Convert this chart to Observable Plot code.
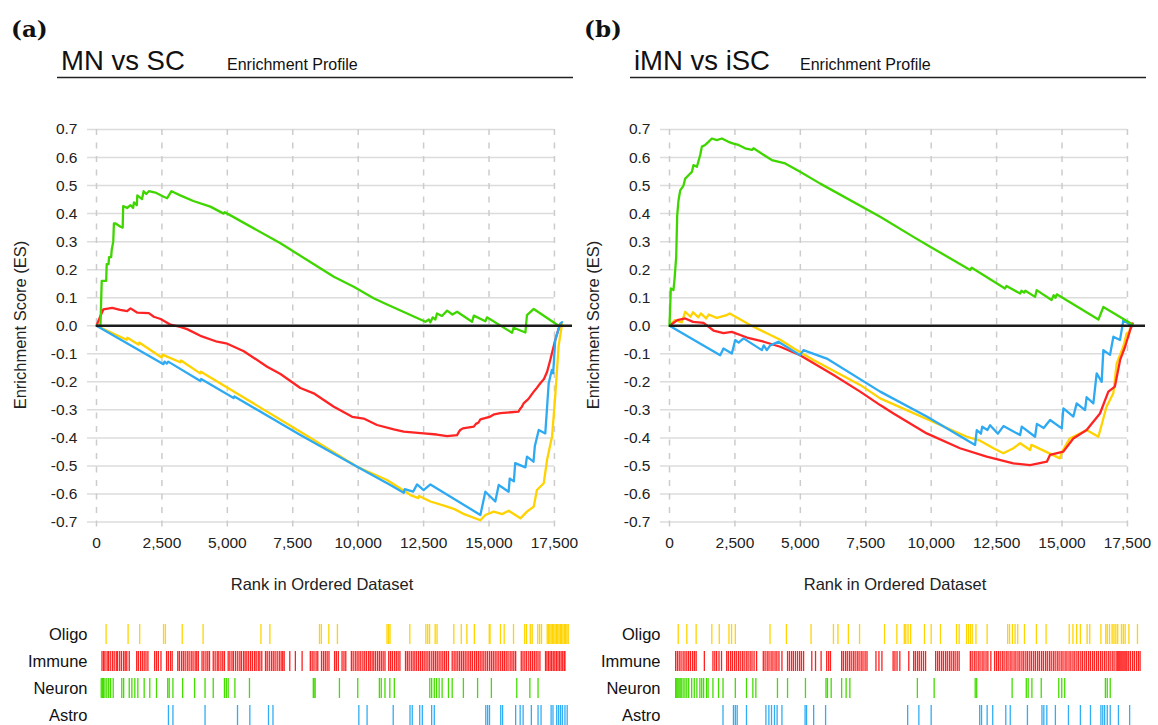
<!DOCTYPE html>
<html>
<head>
<meta charset="utf-8">
<script src="https://cdn.jsdelivr.net/npm/d3@7"></script>
<script src="https://cdn.jsdelivr.net/npm/@observablehq/plot@0.6"></script>
<style>
  html, body { margin: 0; padding: 0; background: #fff; }
  #root { position: relative; width: 1158px; height: 725px; overflow: hidden; background: #fff; }
  .layer { position: absolute; }
</style>
</head>
<body>
<div id="root"></div>
<script>
// ---------- DATA ----------
const setNames = ["Oligo", "Immune", "Neuron", "Astro"];
const rankTicks = [0, 2500, 5000, 7500, 10000, 12500, 15000, 17500];
const esTicks = [0.7, 0.6, 0.5, 0.4, 0.3, 0.2, 0.1, 0, -0.1, -0.2, -0.3, -0.4, -0.5, -0.6, -0.7];

// Panel (a): MN vs SC running enrichment score, [rank, ES]
const mnNeuronES = [[0,0],[150,0.0],[200,0.16],[370,0.16],[390,0.22],[460,0.22],[480,0.245],[560,0.245],[580,0.27],[640,0.30],[665,0.365],[730,0.365],[917,0.353],[1000,0.35],[1020,0.427],[1170,0.42],[1300,0.43],[1400,0.42],[1430,0.44],[1540,0.43],[1560,0.465],[1740,0.452],[1800,0.48],[1900,0.47],[2000,0.48],[2250,0.475],[2570,0.46],[2700,0.455],[2865,0.48],[3200,0.465],[3700,0.445],[4350,0.425],[4860,0.40],[4900,0.405],[5000,0.40],[7030,0.294],[9070,0.175],[9830,0.139],[10590,0.098],[11000,0.08],[12570,0.014],[12700,0.022],[12760,0.012],[12850,0.03],[12950,0.022],[13010,0.044],[13200,0.035],[13400,0.054],[13600,0.04],[13780,0.05],[14350,0.014],[14420,0.036],[14860,0.016],[14920,0.03],[15880,-0.025],[15940,-0.007],[16390,-0.024],[16450,0.038],[16710,0.06],[17660,0.0]];
const mnImmuneES = [[0,0],[150,0.035],[260,0.058],[600,0.064],[900,0.057],[1170,0.052],[1300,0.062],[1550,0.047],[2000,0.045],[2190,0.032],[2450,0.024],[2830,0.004],[3200,-0.004],[3460,-0.012],[3970,-0.036],[4610,-0.057],[5000,-0.064],[5630,-0.091],[6520,-0.146],[7030,-0.172],[7790,-0.222],[8300,-0.241],[9070,-0.289],[9770,-0.325],[10210,-0.331],[10720,-0.354],[11360,-0.370],[11740,-0.378],[12500,-0.384],[13000,-0.388],[13400,-0.394],[13780,-0.390],[13850,-0.378],[13900,-0.372],[14000,-0.366],[14420,-0.360],[14500,-0.350],[14600,-0.345],[14670,-0.334],[15050,-0.324],[15200,-0.316],[15430,-0.312],[16130,-0.306],[16200,-0.295],[16250,-0.290],[16320,-0.277],[16500,-0.262],[16710,-0.235],[16800,-0.225],[16960,-0.205],[17100,-0.19],[17220,-0.164],[17340,-0.122],[17530,-0.051],[17660,-0.01],[17730,0.007]];
const mnOligoES = [[0,0],[1150,-0.05],[1180,-0.043],[1600,-0.067],[1630,-0.06],[2490,-0.113],[2520,-0.103],[3200,-0.13],[3230,-0.124],[3960,-0.17],[3990,-0.164],[7790,-0.378],[9960,-0.503],[11100,-0.55],[12000,-0.604],[12300,-0.615],[12330,-0.607],[12760,-0.627],[13400,-0.645],[13700,-0.655],[14000,-0.67],[14670,-0.694],[14860,-0.675],[15180,-0.663],[15500,-0.672],[15750,-0.66],[16200,-0.687],[16450,-0.663],[16710,-0.645],[16830,-0.586],[17090,-0.562],[17220,-0.477],[17410,-0.394],[17530,-0.251],[17660,-0.072],[17790,0.007]];
const mnAstroES = [[0,0],[2560,-0.137],[2600,-0.128],[2690,-0.135],[2740,-0.128],[3970,-0.197],[4000,-0.19],[5240,-0.258],[5270,-0.252],[7790,-0.39],[9960,-0.503],[11230,-0.568],[11740,-0.596],[11780,-0.583],[12100,-0.592],[12250,-0.566],[12500,-0.586],[12760,-0.566],[14670,-0.675],[14860,-0.592],[15240,-0.627],[15370,-0.568],[15750,-0.592],[15790,-0.545],[15950,-0.555],[16000,-0.49],[16390,-0.505],[16450,-0.467],[16700,-0.485],[16750,-0.43],[16900,-0.372],[17150,-0.384],[17220,-0.289],[17280,-0.205],[17400,-0.158],[17450,-0.17],[17530,-0.051],[17720,0.007],[17790,0.013]];

// Panel (b): iMN vs iSC running enrichment score, [rank, ES]
const imnNeuronES = [[0,0],[50,0.133],[150,0.127],[190,0.163],[256,0.246],[294,0.394],[344,0.447],[410,0.483],[535,0.50],[600,0.525],[726,0.537],[856,0.549],[917,0.573],[1047,0.567],[1173,0.609],[1237,0.639],[1364,0.645],[1490,0.656],[1620,0.668],[1810,0.662],[2000,0.668],[2250,0.656],[2445,0.650],[2636,0.645],[2890,0.633],[3150,0.627],[3210,0.633],[3910,0.591],[4420,0.579],[4990,0.549],[5760,0.507],[8050,0.389],[9320,0.317],[9960,0.282],[11490,0.199],[11550,0.207],[12820,0.133],[12880,0.142],[13400,0.115],[13450,0.125],[13550,0.118],[13600,0.125],[13970,0.103],[14030,0.127],[14600,0.092],[14680,0.109],[14750,0.1],[14800,0.112],[16390,0.022],[16580,0.067],[17665,0.006]];
const imnImmuneES = [[0,0],[300,0.02],[600,0.026],[900,0.014],[1300,0.01],[1680,-0.017],[2060,-0.026],[2380,-0.022],[2960,-0.042],[3600,-0.057],[4230,-0.075],[4990,-0.105],[6270,-0.176],[7285,-0.235],[8050,-0.283],[8560,-0.313],[9830,-0.384],[11100,-0.437],[12120,-0.467],[13140,-0.491],[13780,-0.497],[14420,-0.485],[14540,-0.461],[15050,-0.449],[15430,-0.402],[15940,-0.372],[16450,-0.313],[16770,-0.235],[17020,-0.217],[17220,-0.122],[17410,-0.075],[17600,-0.016],[17700,0.008]];
const imnOligoES = [[0,0],[200,0.02],[470,0.012],[600,0.05],[800,0.032],[900,0.048],[1100,0.03],[1200,0.044],[1400,0.026],[1500,0.04],[1800,0.028],[2190,0.038],[2300,0.044],[2640,0.026],[3080,0.003],[3720,-0.027],[4230,-0.05],[4740,-0.08],[5500,-0.122],[7285,-0.211],[8050,-0.259],[11360,-0.396],[11870,-0.41],[12380,-0.437],[12760,-0.455],[13140,-0.437],[13400,-0.419],[13780,-0.443],[13830,-0.425],[14920,-0.473],[15000,-0.45],[15300,-0.402],[15940,-0.372],[16390,-0.396],[16700,-0.289],[16960,-0.241],[17090,-0.134],[17340,-0.075],[17470,-0.027],[17540,-0.04],[17630,0.008]];
const imnAstroES = [[0,0],[1937,-0.105],[2063,-0.081],[2383,-0.099],[2510,-0.051],[2640,-0.06],[2830,-0.045],[3530,-0.087],[3600,-0.07],[3720,-0.087],[3850,-0.07],[4160,-0.057],[4990,-0.105],[5120,-0.087],[5300,-0.093],[6010,-0.117],[8050,-0.235],[9830,-0.324],[11678,-0.425],[11742,-0.372],[11900,-0.385],[11950,-0.36],[12150,-0.372],[12250,-0.355],[12550,-0.385],[12761,-0.358],[13397,-0.39],[13460,-0.36],[13970,-0.396],[14040,-0.35],[14300,-0.365],[14544,-0.336],[14990,-0.366],[15052,-0.295],[15433,-0.324],[15560,-0.277],[15880,-0.301],[15940,-0.255],[16197,-0.277],[16324,-0.170],[16516,-0.2],[16579,-0.087],[16834,-0.104],[16962,-0.039],[17216,-0.051],[17344,0.02],[17663,0.0]];

// Barcode hit ranks, panel (a)
const mnOligoHits = [213,1050,1490,2398,2469,3108,3902,6102,6442,8330,8400,8684,9011,10898,10955,11011,11764,12374,12445,12516,12729,12800,13438,13722,13935,14219,14786,14815,15212,15354,15709,16134,16205,16347,16418,16631,16702,16773,16990,17040,17090,17140,17190,17240,17290,17340,17390,17440,17490,17540,17590,17640,17690,17740,17790];
const mnImmuneHits = [57,120,170,250,300,370,450,520,600,650,730,800,880,940,1000,1093,1377,1440,1520,1590,1661,1730,1803,2059,2130,2200,2300,2513,2580,2660,2726,2939,3000,3080,3150,3220,3300,3370,3450,3520,3600,3660,3720,3862,3930,4010,4080,4146,4288,4360,4440,4500,4580,4650,4714,4856,4920,5000,5060,5140,5220,5300,5360,5440,5500,5566,5637,5710,5780,5860,5920,6000,6060,6134,6276,6340,6420,6500,6570,6640,6720,6800,6870,6930,6986,7199,7412,7668,7980,8050,8120,8200,8264,8406,8480,8550,8620,8690,8903,8970,9045,9187,9260,9329,9542,9610,9690,9760,9830,9900,9980,10050,10120,10200,10260,10330,10394,10465,10540,10610,10680,10750,10820,10962,11030,11100,11180,11250,11320,11388,11601,11670,11740,11820,11890,11956,12027,12100,12170,12240,12310,12382,12453,12520,12600,12670,12740,12808,12879,12950,13020,13090,13160,13234,13376,13450,13520,13590,13660,13731,13800,13870,13940,14010,14080,14150,14230,14300,14370,14440,14510,14580,14654,14725,14800,14870,14940,15010,15080,15150,15222,15293,15360,15430,15500,15580,15650,15720,15790,16003,16070,16140,16210,16290,16358,16429,16500,16570,16640,16713,16926,16980,17040,17100,17160,17220,17280,17340,17400,17460,17520,17580,17640,17665];
const mnNeuronHits = [28,71,114,170,241,312,383,483,809,880,1093,1193,1306,1420,1661,1874,2130,2556,2613,2755,3124,3578,3976,4288,4714,4785,4856,5112,5666,8094,8122,8165,9088,9784,10607,10678,10820,11005,11175,12524,12595,12695,12780,12879,12993,13234,13376,13802,14342,14867,15833,16330,16642];
const mnAstroHits = [2584,2755,3976,5211,5680,6390,6560,9826,10139,11133,11772,11857,12141,12240,12595,12695,14654,14725,14796,15222,15293,15790,15961,16074,16387,16642,16756,17139,17210,17352,17423,17494,17565,17665,17750];

// Barcode hit ranks, panel (b)
const imnOligoHits = [143,470,827,1425,1710,2081,2180,2323,3648,4275,5216,6071,6242,6641,7068,8023,8493,8778,8835,8921,9020,9548,9804,10160,10773,10873,11158,11229,11300,11372,11514,11942,12725,12797,12911,13010,13110,13367,13823,14193,15077,15219,15362,15504,15761,15860,16288,16473,16530,16616,16716,16787,16858,16929,17072,17143,17214,17357,17684];
const imnImmuneHits = [43,110,180,250,330,400,470,540,610,690,760,827,1140,1468,1540,1610,1700,1796,1995,2060,2140,2210,2290,2360,2440,2510,2590,2660,2740,2810,2890,2960,3040,3135,3392,3460,3540,3610,3690,3760,3840,3910,3990,4104,4318,4390,4470,4540,4620,4700,4780,4850,4931,5244,5387,5600,5814,5890,5957,6384,6450,6530,6600,6680,6750,6830,6900,6980,7050,7130,7200,7280,7353,7695,7809,7923,8351,8420,8500,8607,8949,9134,9200,9280,9350,9430,9510,9590,9975,10050,10120,10200,10270,10350,10420,10500,10570,10650,10720,10800,10873,11300,11370,11450,11520,11600,11670,11750,11820,11900,11970,12084,12227,12300,12370,12440,12520,12590,12670,12740,12820,12890,12970,13040,13120,13190,13270,13340,13420,13490,13570,13640,13720,13790,13870,13940,14020,14090,14170,14240,14320,14390,14470,14540,14620,14690,14770,14840,14920,14990,15070,15140,15220,15290,15370,15440,15520,15590,15670,15740,15820,15890,15970,16040,16120,16190,16270,16340,16420,16490,16570,16640,16720,16790,16870,16930,16970,17010,17050,17090,17130,17170,17210,17250,17285,17350,17420,17500,17570,17650,17720,17784];
const imnNeuronHits = [43,86,128,171,214,257,328,399,470,542,656,755,855,969,1040,1112,1226,1283,1468,1682,1853,2323,2750,2993,3107,3933,4318,5002,5786,5843,5985,6384,6555,6698,9277,9918,11486,11543,12896,13438,13509,13652,14008,14678,14792,14906,16459,16530,16644];
const imnAstroHits = [1853,2252,2323,2394,2750,3491,3605,3705,3819,3919,4104,4988,5045,5315,5771,8906,9334,9804,11657,11728,11942,12155,12654,12825,13481,14036,14108,14222,14549,15048,15504,15889,16288,16359,16430,16530,16644,16958,17385];

// ---------- STYLE ----------
const FONT = '"Liberation Sans", Arial, Helvetica, sans-serif';
const lineColors = ["#ffd200", "#ff2424", "#3fd600", "#2eaaf2"];
const barColors = ["#ffd400", "#ff2020", "#44dd00", "#30adf5"];

function enrichmentPlot(curves) {
  const rows = [];
  for (const [set, pts] of curves) for (const [rank, es] of pts) rows.push({set, rank, es});
  return Plot.plot({
    width: 580, height: 500,
    marginLeft: 87, marginRight: 8, marginTop: 15, marginBottom: 64.5,
    x: {domain: [-344, 18190], label: null},
    y: {domain: [-0.75, 0.75], label: null},
    color: {domain: setNames, range: lineColors},
    style: {fontFamily: FONT, fontSize: "15.5px", color: "#222", background: "transparent", overflow: "visible"},
    marks: [
      Plot.ruleY(esTicks, {x1: -344, x2: 17500, stroke: "#dcdcdc", strokeWidth: 1.5}),
      Plot.ruleX(rankTicks, {y1: 0.7, y2: -0.735, stroke: "#cccccc", strokeWidth: 1.5, strokeDasharray: "6,7.5"}),
      Plot.line(rows, {x: "rank", y: "es", z: "set", stroke: "set", strokeWidth: 2.3}),
      Plot.ruleY([0], {x1: 0, x2: 18190, stroke: "#1c1c1c", strokeWidth: 2.6}),
      Plot.axisY(esTicks, {tickSize: 0, tickPadding: 10, tickFormat: d => d.toFixed(1), label: null}),
      Plot.axisX(rankTicks, {tickSize: 0, tickPadding: 1, label: null})
    ]
  });
}

function barcodePlot(hitSets, marginLeft, marginRight, tickPadding) {
  const rows = [];
  for (const [set, hits] of hitSets) for (const rank of hits) rows.push({set, rank});
  return Plot.plot({
    width: 580, height: 118,
    marginLeft, marginRight, marginTop: 0, marginBottom: 0,
    x: {domain: [0, 17800], axis: null},
    y: {domain: setNames, range: [8.5, 116.5], paddingInner: 0.26, paddingOuter: 0.13, label: null},
    color: {domain: setNames, range: barColors},
    style: {fontFamily: FONT, fontSize: "16.5px", color: "#111", background: "transparent", overflow: "visible"},
    marks: [
      Plot.tickX(rows, {x: "rank", y: "set", stroke: "set", strokeWidth: 1.3}),
      Plot.axisY({tickSize: 0, tickPadding, label: null})
    ]
  });
}

const root = document.getElementById("root");
function place(node, left, top) {
  const d = document.createElement("div");
  d.className = "layer";
  d.style.left = left + "px";
  d.style.top = top + "px";
  d.appendChild(node);
  root.appendChild(d);
}

place(enrichmentPlot([["Oligo", mnOligoES], ["Immune", mnImmuneES], ["Astro", mnAstroES], ["Neuron", mnNeuronES]]), 0, 100);
place(enrichmentPlot([["Oligo", imnOligoES], ["Immune", imnImmuneES], ["Astro", imnAstroES], ["Neuron", imnNeuronES]]), 573, 100);
place(barcodePlot([["Oligo", mnOligoHits], ["Immune", mnImmuneHits], ["Neuron", mnNeuronHits], ["Astro", mnAstroHits]], 100, 12, 13), 0, 612);
place(barcodePlot([["Oligo", imnOligoHits], ["Immune", imnImmuneHits], ["Neuron", imnNeuronHits], ["Astro", imnAstroHits]], 101, 13, 14), 573, 612);

// Titles and axis labels
const svg = d3.select(root).append("svg")
  .attr("width", 1158).attr("height", 725)
  .style("position", "absolute").style("left", 0).style("top", 0)
  .style("pointer-events", "none");
const panels = [
  {tag: "(a)", title: "MN vs SC", dx: 0},
  {tag: "(b)", title: "iMN vs iSC", dx: 573}
];
for (const p of panels) {
  const g = svg.append("g").attr("transform", `translate(${p.dx},0)`).attr("fill", "#111");
  g.append("text").attr("x", 11).attr("y", 37).attr("font-family", '"DejaVu Serif", serif')
    .attr("font-weight", "bold").attr("font-size", 23).text(p.tag);
  g.append("text").attr("x", 61).attr("y", 70).attr("font-family", FONT).attr("font-size", 27.5).text(p.title);
  g.append("text").attr("x", 227).attr("y", 70).attr("font-family", FONT).attr("font-size", 16).text("Enrichment Profile");
  g.append("line").attr("x1", 57).attr("x2", 573).attr("y1", 77.5).attr("y2", 77.5).attr("stroke", "#222").attr("stroke-width", 1.5);
  g.append("text").attr("x", 322).attr("y", 590).attr("text-anchor", "middle").attr("font-family", FONT)
    .attr("font-size", 16.5).attr("fill", "#222").text("Rank in Ordered Dataset");
  g.append("text").attr("transform", "translate(25.5,325) rotate(-90)").attr("text-anchor", "middle")
    .attr("font-family", FONT).attr("font-size", 16.5).attr("fill", "#222").text("Enrichment Score (ES)");
}
</script>
</body>
</html>
